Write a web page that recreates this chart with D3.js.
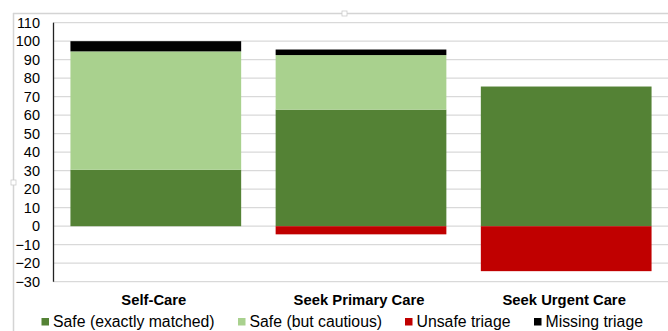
<!DOCTYPE html>
<html><head><meta charset="utf-8">
<script src="https://cdn.jsdelivr.net/npm/d3@7"></script>
<style>body{margin:0;background:#fff;}svg{display:block;font-family:"Liberation Sans",Arial,sans-serif;}</style>
</head><body><svg id="c" width="668" height="331"></svg>
<script>
const categories = ["Self-Care", "Seek Primary Care", "Seek Urgent Care"];
const safeExact = [30.5, 63, 75.5];
const safeCautious = [64, 29.5, 0];
const missing = [5.5, 3, 0];
const unsafe = [0, -4.4, -24.3];
const seriesNames = ["Safe (exactly matched)", "Safe (but cautious)", "Unsafe triage", "Missing triage"];
const colors = ["#548235", "#A9D18E", "#C00000", "#000000"];
const yTicks = [110,100,90,80,70,60,50,40,30,20,10,0,-10,-20,-30];

const svg = d3.select("#c");
const x = d3.scaleBand().domain(categories).range([53, 669]).paddingInner(0.168).paddingOuter(0.085);
const y = d3.scaleLinear().domain([-30, 110]).range([281.7, 22.7]);

// frame
svg.append("line").attr("x1",13).attr("x2",668).attr("y1",13.5).attr("y2",13.5).attr("stroke","#d4d4d4").attr("stroke-width",1.5);
svg.append("line").attr("x1",13.5).attr("x2",13.5).attr("y1",13).attr("y2",331).attr("stroke","#d4d4d4").attr("stroke-width",1.5);
svg.append("rect").attr("x",342).attr("y",11).attr("width",5).attr("height",5).attr("fill","#fff").attr("stroke","#ccc").attr("stroke-width",0.8);
svg.append("rect").attr("x",11).attr("y",180).attr("width",5).attr("height",5).attr("fill","#fff").attr("stroke","#ccc").attr("stroke-width",0.8);

// gridlines
svg.append("g").selectAll("line").data(yTicks).join("line")
  .attr("x1",53).attr("x2",668).attr("y1",d=>y(d)).attr("y2",d=>y(d))
  .attr("stroke","#d9d9d9").attr("stroke-width",1.3);

// y axis labels
const yAxis = d3.axisLeft(y).tickValues(yTicks).tickSize(0).tickPadding(13).tickFormat(d3.format("d"));
const ga = svg.append("g").attr("transform","translate(53,0)").call(yAxis);
ga.select(".domain").remove();
ga.selectAll("text").attr("font-size","14.5px").attr("fill","#000").attr("font-family","Liberation Sans, Arial, sans-serif");

// stacked bars
const rows = categories.map((c,i)=>({cat:c, segs:[
  {k:0, y0:0, y1:safeExact[i]},
  {k:1, y0:safeExact[i], y1:safeExact[i]+safeCautious[i]},
  {k:3, y0:safeExact[i]+safeCautious[i], y1:safeExact[i]+safeCautious[i]+missing[i]},
  {k:2, y0:unsafe[i], y1:0}
]}));
rows.forEach(r=>{
  svg.append("g").selectAll("rect").data(r.segs.filter(s=>s.y1-s.y0>0)).join("rect")
    .attr("x",x(r.cat)).attr("width",x.bandwidth())
    .attr("y",d=>y(d.y1)).attr("height",d=>y(d.y0)-y(d.y1))
    .attr("fill",d=>colors[d.k]);
});

// y axis line
svg.append("line").attr("x1",53.5).attr("x2",53.5).attr("y1",y(110)).attr("y2",y(-30)).attr("stroke","#222").attr("stroke-width",1.3);

// category labels
svg.append("g").selectAll("text").data(categories).join("text")
  .attr("x",d=>x(d)+x.bandwidth()/2-2).attr("y",305).attr("text-anchor","middle")
  .attr("font-size","14.8px").attr("font-weight","bold").text(d=>d);

// legend
const legX = [41.5, 238, 405, 534];
const lg = svg.append("g").selectAll("g").data(seriesNames).join("g")
  .attr("transform",(d,i)=>`translate(${legX[i]},0)`);
lg.append("rect").attr("x",0).attr("y",318).attr("width",7.5).attr("height",7.5).attr("fill",(d,i)=>colors[i]);
lg.append("text").attr("x",11.5).attr("y",327).attr("font-size","15.8px").text(d=>d);
</script></body></html>
